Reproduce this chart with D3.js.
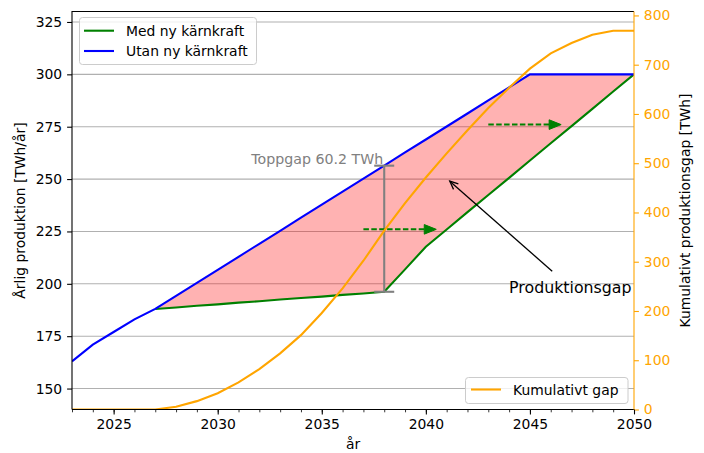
<!DOCTYPE html>
<html><head><meta charset="utf-8">
<script src="https://cdn.jsdelivr.net/npm/d3@7"></script>
<style>
body{margin:0;background:#fff;}
svg{display:block;font-family:"DejaVu Sans",sans-serif;}
</style></head>
<body><svg id="c" width="704" height="453"></svg>
<script>
// ---- data ----
const years = [2023,2024,2025,2026,2027,2028,2029,2030,2031,2032,2033,2034,2035,2036,2037,2038,2039,2040,2041,2042,2043,2044,2045,2046,2047,2048,2049,2050];
const utanNy = [163,171,177,183,188,194.2,200.4,206.7,212.9,219.1,225.3,231.6,237.8,244.0,250.2,256.4,262.7,268.9,275.1,281.3,287.6,293.8,300,300,300,300,300,300];
const medYears = [2027,2028,2029,2030,2031,2032,2033,2034,2035,2036,2037,2038,2039,2040,2041,2042,2043,2044,2045,2046,2047,2048,2049,2050];
const medNy = [188,188.7,189.5,190.2,191.0,191.7,192.5,193.2,193.9,194.7,195.4,196.2,206.9,217.7,225.9,234.2,242.4,250.6,258.9,267.1,275.3,283.5,291.8,300];
const kumulativ = [0,0,0,0,0,5.5,17,33,55,82,114,151,196,246,302,363,419,471,520,567,612,653,692,723,744,761,769,769];
const leftTicks = [150,175,200,225,250,275,300,325];
const rightTicks = [0,100,200,300,400,500,600,700,800];
const xTicks = [2025,2030,2035,2040,2045,2050];
const peakYear = 2038;
const peakGapLabel = "Toppgap 60.2 TWh";
const shiftArrows = [{x0:2037,x1:2040.5,y:226},{x0:2043,x1:2046.5,y:276}];

// ---- layout ----
const svg = d3.select("#c");
const L=72, R=634, T=11.5, B=409.5;
const x = d3.scaleLinear().domain([2023,2050]).range([L,R]);
const yL = d3.scaleLinear().domain([140,330]).range([B,T]);
const yR = d3.scaleLinear().domain([0,808]).range([B,T]);
const FS = "13.9px";
const ORANGE="#ffa500";

svg.append("defs").append("clipPath").attr("id","clip")
  .append("rect").attr("x",L).attr("y",T).attr("width",R-L).attr("height",B-T);

// grid
svg.append("g").selectAll("line").data(leftTicks).join("line")
  .attr("x1",L).attr("x2",R).attr("y1",d=>yL(d)).attr("y2",d=>yL(d))
  .attr("stroke","#b0b0b0").attr("stroke-width",1.1);

const plot = svg.append("g").attr("clip-path","url(#clip)");

// fill between
const gapData = medYears.map((yr,i)=>({yr, lo:medNy[i], hi:utanNy[years.indexOf(yr)]}));
plot.append("path").datum(gapData)
  .attr("d", d3.area().x(d=>x(d.yr)).y0(d=>yL(d.lo)).y1(d=>yL(d.hi)))
  .attr("fill","#ff0000").attr("fill-opacity",0.3);

// lines
plot.append("path").datum(medYears.map((yr,i)=>[yr,medNy[i]]))
  .attr("d", d3.line().x(d=>x(d[0])).y(d=>yL(d[1])))
  .attr("fill","none").attr("stroke","#008000").attr("stroke-width",2.1);
plot.append("path").datum(years.map((yr,i)=>[yr,utanNy[i]]))
  .attr("d", d3.line().x(d=>x(d[0])).y(d=>yL(d[1])))
  .attr("fill","none").attr("stroke","#0000ff").attr("stroke-width",2.1);

// peak gap bar
const pHi = utanNy[years.indexOf(peakYear)], pLo = medNy[medYears.indexOf(peakYear)];
const px = x(peakYear);
const gbar = svg.append("g").attr("stroke","#808080").attr("stroke-width",2.1);
gbar.append("line").attr("x1",px).attr("x2",px).attr("y1",yL(pHi)).attr("y2",yL(pLo));
[pHi,pLo].forEach(v=>gbar.append("line").attr("x1",px-10).attr("x2",px+10).attr("y1",yL(v)).attr("y2",yL(v)));
svg.append("text").attr("x",px-1).attr("y",yL(pHi)-2).attr("text-anchor","end")
  .attr("fill","#808080").style("font-size","14.2px").text(peakGapLabel);

// dashed green arrows
shiftArrows.forEach(a=>{
  const x0=x(a.x0), x1=x(a.x1), yy=yL(a.y);
  svg.append("line").attr("x1",x0).attr("x2",x1-10).attr("y1",yy).attr("y2",yy)
    .attr("stroke","#008000").attr("stroke-width",2).attr("stroke-dasharray","5.5,2.4");
  svg.append("path").attr("d",`M${x1},${yy}L${x1-12},${yy-4.8}L${x1-12},${yy+4.8}Z`)
    .attr("fill","#008000").attr("stroke","#008000").attr("stroke-width",1);
});

// Produktionsgap annotation
const headX=x(2041.15), headY=yL(249), tailX=x(2046.07), tailY=yL(206);
svg.append("line").attr("x1",tailX).attr("y1",tailY).attr("x2",headX).attr("y2",headY)
  .attr("stroke","#000").attr("stroke-width",1.3);
{
  const ang=Math.atan2(tailY-headY,tailX-headX), len=9, spread=0.42;
  const p1=[headX+len*Math.cos(ang+spread), headY+len*Math.sin(ang+spread)];
  const p2=[headX+len*Math.cos(ang-spread), headY+len*Math.sin(ang-spread)];
  svg.append("path").attr("d",`M${p1}L${headX},${headY}L${p2}`).attr("fill","none")
    .attr("stroke","#000").attr("stroke-width",1.3);
}
svg.append("text").attr("x",x(2044)).attr("y",yL(195.6)).attr("fill","#000")
  .style("font-size","15.8px").text("Produktionsgap");

// legend 1
const lg1 = svg.append("g");
lg1.append("rect").attr("x",79.5).attr("y",17.5).attr("width",177).attr("height",47).attr("rx",3)
  .attr("fill","#fff").attr("fill-opacity",0.8).attr("stroke","#cccccc");
[["Med ny kärnkraft","#008000",30.7],["Utan ny kärnkraft","#0000ff",51]].forEach(([t,c,yy])=>{
  lg1.append("line").attr("x1",84).attr("x2",114).attr("y1",yy).attr("y2",yy).attr("stroke",c).attr("stroke-width",2.1);
  lg1.append("text").attr("x",126).attr("y",yy+5).style("font-size",FS).attr("fill","#000").text(t);
});

// cumulative line (twin axis)
svg.append("g").attr("clip-path","url(#clip)").append("path")
  .datum(years.map((yr,i)=>[yr,kumulativ[i]]))
  .attr("d", d3.line().x(d=>x(d[0])).y(d=>yR(d[1])))
  .attr("fill","none").attr("stroke",ORANGE).attr("stroke-width",2.1);

// legend 2
const lg2 = svg.append("g");
lg2.append("rect").attr("x",465.5).attr("y",377.5).attr("width",162.5).attr("height",26).attr("rx",3)
  .attr("fill","#fff").attr("fill-opacity",0.8).attr("stroke","#cccccc");
lg2.append("line").attr("x1",471).attr("x2",501).attr("y1",389.5).attr("y2",389.5).attr("stroke",ORANGE).attr("stroke-width",2.1);
lg2.append("text").attr("x",513).attr("y",394.5).style("font-size",FS).attr("fill","#000").text("Kumulativt gap");

// axes
function styleAxis(g,color){
  g.select(".domain").remove();
  g.selectAll(".tick line").attr("stroke",color).attr("stroke-width",1.1);
  g.selectAll(".tick text").attr("fill",color).style("font-size",FS).style("font-family","DejaVu Sans");
}
const gl = svg.append("g").attr("transform",`translate(${L},0)`)
  .call(d3.axisLeft(yL).tickValues(leftTicks).tickSize(4.9).tickPadding(4.9).tickSizeOuter(0));
styleAxis(gl,"#000");
const gr = svg.append("g").attr("transform",`translate(${R},0)`)
  .call(d3.axisRight(yR).tickValues(rightTicks).tickSize(4.9).tickPadding(4.9).tickSizeOuter(0));
styleAxis(gr,ORANGE);
const gbm = svg.append("g").attr("transform",`translate(0,${B})`)
  .call(d3.axisBottom(x).tickValues(years).tickSize(2.8).tickFormat(""));
gbm.select(".domain").remove(); gbm.selectAll(".tick line").attr("stroke","#000").attr("stroke-width",0.8);
const gb = svg.append("g").attr("transform",`translate(0,${B})`)
  .call(d3.axisBottom(x).tickValues(xTicks).tickSize(4.9).tickPadding(4.9).tickFormat(d3.format("d")));
styleAxis(gb,"#000");

// spines
svg.append("path").attr("d",`M${L},${B}L${L},${T}L${R},${T}`).attr("fill","none").attr("stroke","#000").attr("stroke-width",1.1);
svg.append("line").attr("x1",L).attr("x2",R).attr("y1",B).attr("y2",B).attr("stroke","#000").attr("stroke-width",1.1);
svg.append("line").attr("x1",R).attr("x2",R).attr("y1",T).attr("y2",B).attr("stroke",ORANGE).attr("stroke-width",1.1);

// axis labels
svg.append("text").attr("transform",`translate(20,${(T+B)/2}) rotate(-90)`).attr("text-anchor","middle")
  .attr("dominant-baseline","central").style("font-size",FS).text("Årlig produktion [TWh/år]");
svg.append("text").attr("transform",`translate(685,${(T+B)/2}) rotate(-90)`).attr("text-anchor","middle")
  .attr("dominant-baseline","central").style("font-size",FS).text("Kumulativt produktionsgap [TWh]");
svg.append("text").attr("x",(L+R)/2).attr("y",449).attr("text-anchor","middle")
  .style("font-size",FS).text("år");
</script></body></html>
